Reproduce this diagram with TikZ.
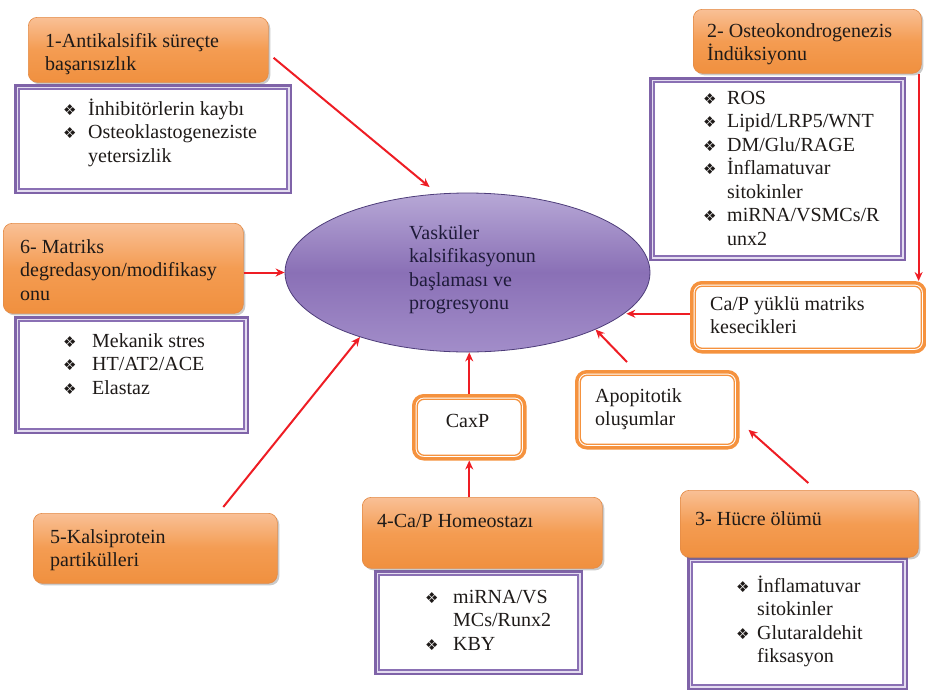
\documentclass[tikz,border=0pt]{standalone}
\usepackage{fontspec}
\setmainfont{Liberation Serif}
\newfontfamily\glyphfont{DejaVu Sans}
\usetikzlibrary{shapes.geometric,shadows,calc,arrows.meta}

\definecolor{orTop}{HTML}{F9C096}
\definecolor{orMid}{HTML}{F49C52}
\definecolor{orBot}{HTML}{F0903F}
\definecolor{orEdge}{HTML}{E38A45}
\definecolor{orLine}{HTML}{F5923E}
\definecolor{pu}{HTML}{7F63A8}
\definecolor{puIn}{HTML}{8A70B4}
\definecolor{puGap}{HTML}{E4DDF0}
\definecolor{elTop}{HTML}{B7A8D6}
\definecolor{elMid}{HTML}{8A70B6}
\definecolor{elBot}{HTML}{A28DC9}
\definecolor{elEdge}{HTML}{4E3D7A}
\definecolor{arrowred}{HTML}{EE1D24}
\definecolor{ink}{HTML}{1E1A18}
\definecolor{inkEl}{HTML}{1F1B3A}

% multi-line text block whose baseline is its first line
\newcommand\lines[1]{\begin{tabular}[t]{@{}l@{}}#1\end{tabular}}
% list bullet and hanging indent
\newcommand\bul[1][25]{\makebox[#1pt][l]{\glyphfont\fontsize{15}{15}\selectfont ❖}}
\newcommand\ind[1][25]{\hspace*{#1pt}}
% thin inner rule of a framed box
\newcommand\inframe[3]{\draw[#1] ($(#2.north west)+(#3,#3)$) rectangle ($(#2.south east)+(-#3,-#3)$);}

\begin{document}
\begin{tikzpicture}[x=1pt,y=-1pt,
  font=\fontsize{20}{23.5}\selectfont,
  titlebox/.style={draw=orEdge, line width=0.6pt, rounded corners=9pt,
    top color=orTop, bottom color=orBot, middle color=orMid,
    drop shadow={shadow xshift=2pt, shadow yshift=-2pt, opacity=0.35, fill=black!60},
    anchor=north west, inner sep=0pt},
  listbox/.style={draw=pu, line width=5pt, fill=white, anchor=north west, inner sep=0pt},
  ringbox/.style={draw=orLine, line width=3.5pt, rounded corners=10pt, fill=white,
    anchor=north west, inner sep=0pt},
  dims/.style 2 args={minimum width=#1pt, minimum height=#2pt},
  txt/.style={anchor=base west, inner sep=0pt, text=ink},
  arr/.style={draw=arrowred, line width=2pt, -{Stealth[length=9pt,width=8pt]}}
]
\useasboundingbox (0,0) rectangle (926,689);

% framed lists
\node[listbox, dims={273}{105}] (l1) at (14,84) {};
\node[listbox, dims={252}{179}] (l2) at (649,77) {};
\node[listbox, dims={230}{113}] (l6) at (14,316) {};
\node[listbox, dims={204}{100}] (l4) at (374,570) {};
\node[listbox, dims={216}{128}] (l3) at (687,557) {};
\foreach \b in {l1,l2,l6,l4,l3}{
  \inframe{puGap, line width=1.6pt}{\b}{3.3}
  \inframe{puIn, line width=1.5pt}{\b}{4.9}
}

% orange headings
\node[titlebox, dims={240}{65}] (t1) at (28,17) {};
\node[titlebox, dims={228}{64}] (t2) at (693,9) {};
\node[titlebox, dims={240}{90}] (t6) at (3,223) {};
\node[titlebox, dims={240}{71}] (t4) at (362,497) {};
\node[titlebox, dims={238}{67}] (t3) at (680,490) {};
\node[titlebox, dims={244}{70}] (t5) at (33,513) {};

% ringed intermediate boxes
\node[ringbox, dims={233}{69}] (cap) at (690,281) {};
\node[ringbox, dims={161}{76}] (apo) at (575,370) {};
\node[ringbox, dims={111}{63}] (caxp) at (412,394) {};
\foreach \b in {cap,apo,caxp}{\inframe{orLine, line width=1.3pt, rounded corners=7pt}{\b}{5.2}}

% central ellipse
\node[ellipse, dims={365}{159}, inner sep=0pt, draw=elEdge, line width=0.8pt,
  top color=elTop, bottom color=elBot, middle color=elMid] (core) at (467.5,272.5) {};

% connectors
\draw[arr] ($(t1.east)+(5,8)$) -- ([shift={(-3,-7)}]core.114.5);
\draw[arr] (t6.east |- core.west) -- (core.west);
\coordinate (t2drop) at ($(t2.south east)+(-3,0)$);
\draw[arr] (t2drop) -- (t2drop |- cap.north);
\coordinate (capin) at ($(cap.west)+(0,-3.5)$);
\draw[arr] (capin) -- (capin -| core.-14);
\draw[arr] ($(apo.north west)+(52,-8)$) -- (core.-24);
\draw[arr] ($(t3.north)+(9,-7)$) -- ($(apo.east)+(9,20)$);
\draw[arr] (caxp.north) -- (caxp.north |- core.south);
\draw[arr] (caxp.south |- t4.north) -- (caxp.south);
\draw[arr] ($(t5.north)+(68,-6)$) -- (core.211);

% texts
\node[txt, text=inkEl] (coretxt) at (409,239) {\lines{Vasküler\\kalsifikasyonun\\başlaması ve\\progresyonu}};

\node[txt] (t1txt) at (45,47) {\lines{1-Antikalsifik süreçte\\başarısızlık}};
\node[txt] (l1txt) at (63,115) {\lines{\bul İnhibitörlerin kaybı\\\bul Osteoklastogeneziste\\\ind yetersizlik}};

\node[txt] (t2txt) at (707,37) {\lines{2- Osteokondrogenezis\\İndüksiyonu}};
\node[txt] (l2txt) at (703,104) {\lines{\bul[24]ROS\\\bul[24]Lipid/LRP5/WNT\\\bul[24]DM/Glu/RAGE\\\bul[24]İnflamatuvar\\\ind[24]sitokinler\\\bul[24]miRNA/VSMCs/R\\\ind[24]unx2}};

\node[txt] (t6txt) at (20,253) {\lines{6- Matriks\\degredasyon/modifikasy\\onu}};
\node[txt] (l6txt) at (63,347) {\lines{\bul[29]Mekanik stres\\\bul[29]HT/AT2/ACE\\\bul[29]Elastaz}};

\node[txt] (captxt) at (710,310) {\lines{Ca/P yüklü matriks\\kesecikleri}};
\node[txt] (apotxt) at (595,402) {\lines{Apopitotik\\oluşumlar}};
\node[anchor=base, inner sep=0pt, text=ink] (caxptxt) at (467.5,427) {CaxP};

\node[txt] (t4txt) at (377,527) {4-Ca/P Homeostazı};
\node[txt] (l4txt) at (425,603) {\lines{\bul[28]miRNA/VS\\\ind[28]MCs/Runx2\\\bul[28]KBY}};

\node[txt] (t3txt) at (695,525) {3- Hücre ölümü};
\node[txt] (l3txt) at (736,592) {\lines{\bul[21]İnflamatuvar\\\ind[21]sitokinler\\\bul[21]Glutaraldehit\\\ind[21]fiksasyon}};

\node[txt] (t5txt) at (50,543) {\lines{5-Kalsiprotein\\partikülleri}};
\end{tikzpicture}
\end{document}
